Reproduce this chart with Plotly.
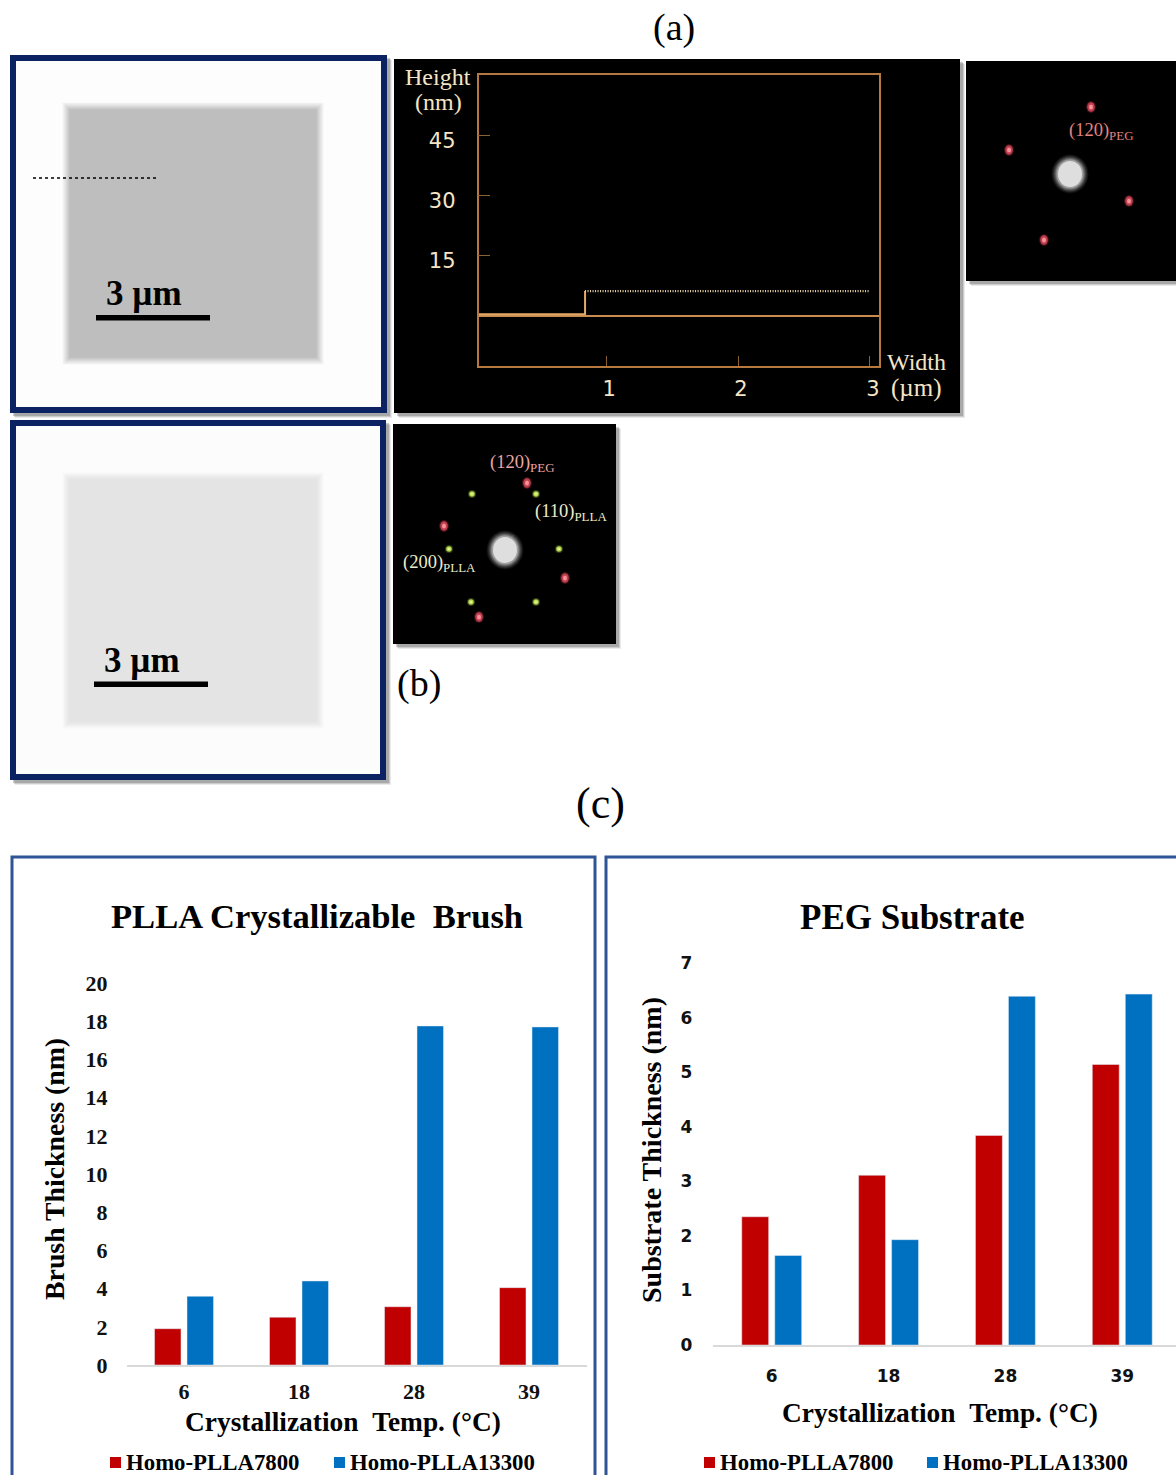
import plotly.graph_objects as go

W, H = 1176, 1475
SERIF = "Liberation Serif"
SANS = "DejaVu Sans"

# ---------- data ----------
temps = ["6", "18", "28", "39"]
series_names = ["Homo-PLLA7800", "Homo-PLLA13300"]
brush_7800 = [1.9, 2.5, 3.05, 4.05]
brush_13300 = [3.6, 4.4, 17.75, 17.7]
substrate_7800 = [2.35, 3.11, 3.84, 5.14]
substrate_13300 = [1.64, 1.93, 6.39, 6.43]
brush_ticks = [0, 2, 4, 6, 8, 10, 12, 14, 16, 18, 20]
substrate_ticks = [0, 1, 2, 3, 4, 5, 6, 7]

profile_base_x = [0.03, 0.84, 0.84]
profile_base_y = [0.4, 0.4, 6.2]
profile_top_x = [0.84, 3.0]
profile_top_y = [6.2, 6.2]
afm_y_ticks = [15, 30, 45]
afm_x_ticks = [1, 2, 3]

RED = "#C00000"
BLUE = "#0070C0"
FRAME = "#2F5597"
NAVY = "#0B2263"
AFM = "#B5793F"
CREAM = "#F5E5C8"


def fx(px):
    return px / W


def fy(py):
    return 1 - py / H


shapes = []
annotations = []


def rect(x0, y0, x1, y1, fill=None, line=None, lw=0, opacity=1.0, layer="below"):
    shapes.append(dict(type="rect", xref="paper", yref="paper", x0=fx(x0), x1=fx(x1), y0=fy(y1), y1=fy(y0),
                       fillcolor=fill if fill else "rgba(0,0,0,0)",
                       line=dict(color=line if line else "rgba(0,0,0,0)", width=lw),
                       opacity=opacity, layer=layer))


def soft_rect(x0, y0, x1, y1, fill, blur=6, steps=6):
    for i in range(steps):
        d = blur / 2 - blur * i / (steps - 1)
        rect(x0 - d, y0 - d, x1 + d, y1 + d, fill=fill, opacity=1.0 / (steps - i))


def shadow(x0, y0, x1, y1):
    for d, op in [(5, 0.12), (4, 0.2), (3, 0.3)]:
        rect(x0 + d, y0 + d, x1 + d, y1 + d, fill="#555555", opacity=op)


def ellipse(cx, cy, rx, ry, fill, opacity=1.0):
    shapes.append(dict(type="circle", xref="paper", yref="paper", x0=fx(cx - rx), x1=fx(cx + rx),
                       y0=fy(cy + ry), y1=fy(cy - ry), fillcolor=fill, line=dict(width=0),
                       opacity=opacity, layer="below"))


def spot(cx, cy, kind):
    if kind == "red":
        ellipse(cx, cy, 5, 6, "#C8364A", 0.3)
        ellipse(cx, cy, 3.8, 4.8, "#E04A5C", 0.8)
        ellipse(cx, cy, 2, 2.6, "#F58F98")
    elif kind == "green":
        ellipse(cx, cy, 4, 4, "#7FA030", 0.35)
        ellipse(cx, cy, 2.8, 2.8, "#B4D84A")
        ellipse(cx, cy, 1.3, 1.3, "#E4F2A0")
    else:
        for r, op in [(18.5, 0.06), (17.5, 0.08), (16.5, 0.1), (15.5, 0.14), (14.5, 0.2), (13.5, 0.3)]:
            ellipse(cx, cy, r, r + 1, "#FFFFFF", op)
        ellipse(cx, cy, 12, 13, "#DEDEDE")


def text(x, y, s, size, color="#000000", family=SERIF, weight=400, angle=0):
    annotations.append(dict(xref="paper", yref="paper", x=fx(x), y=fy(y), text=s, showarrow=False,
                            xanchor="center", yanchor="middle", textangle=angle,
                            font=dict(family=family, size=size, color=color, weight=weight)))


# ---------- panel (a) height image ----------
shadow(10, 55, 387, 413)
rect(13, 58, 384, 410, fill="#FDFDFD", line=NAVY, lw=6)
soft_rect(66, 106, 320, 361, "#BEBEBE", blur=7, steps=8)
shapes.append(dict(type="line", xref="paper", yref="paper", x0=fx(33), x1=fx(157), y0=fy(178), y1=fy(178),
                   line=dict(color="#000000", width=1.6, dash="dot"), layer="below"))
rect(96, 315, 210, 320.5, fill="#000000")
text(144, 294, "3 µm", 35, weight=700)

# ---------- AFM profile background ----------
shadow(394, 59, 960, 413)
rect(394, 59, 960, 413, fill="#000000")

# ---------- panel (a) diffraction ----------
shadow(966, 61, 1190, 281)
rect(966, 61, 1190, 281, fill="#000000")
spot(1070, 174, "core")
for cx, cy in [(1091, 107), (1009, 150), (1129, 201), (1044, 240)]:
    spot(cx, cy, "red")
text(1101, 131, "(120)<sub>PEG</sub>", 18.5, color="#E0857F")

# ---------- panel (b) image ----------
shadow(10, 420, 386, 780)
rect(13, 423, 383, 777, fill="#FCFCFC", line=NAVY, lw=6)
soft_rect(66, 476, 320, 725, "#E4E4E4", blur=7, steps=8)
rect(94, 681.5, 208, 687, fill="#000000")
text(142, 660, "3 µm", 35, weight=700)

# ---------- panel (b) diffraction ----------
shadow(393, 424, 616, 644)
rect(393, 424, 616, 644, fill="#000000")
spot(505, 550, "core")
for cx, cy in [(527, 483), (444, 526), (565, 578), (479, 617)]:
    spot(cx, cy, "red")
for cx, cy in [(472, 494), (536, 494), (449, 549), (559, 549), (471, 602), (536, 602)]:
    spot(cx, cy, "green")
text(522, 464, "(120)<sub>PEG</sub>", 18.5, color="#EBA5A0")
text(571, 512, "(110)<sub>PLLA</sub>", 18.5, color="#ECECC8")
text(439, 563, "(200)<sub>PLLA</sub>", 18.5, color="#ECECC8")

# ---------- panel letters ----------
text(674, 27, "(a)", 38)
text(419, 683, "(b)", 38)
text(600, 804, "(c)", 44)

# ---------- frames of chart panels ----------
rect(12, 857, 595, 1495, line=FRAME, lw=3)
rect(606, 857, 1195, 1495, line=FRAME, lw=3)

# ---------- AFM labels ----------
text(438, 77, "Height", 24, color=CREAM)
text(438, 102, "(nm)", 24, color=CREAM)
text(916, 362, "Width", 24, color=CREAM)
text(916, 388, "(µm)", 25, color=CREAM)

# ---------- chart texts ----------
text(317, 916, "PLLA Crystallizable\u00a0\u00a0Brush", 34.6, weight=700)
text(912, 918, "PEG Substrate", 35, weight=700)
text(343, 1422, "Crystallization\u00a0\u00a0Temp. (°C)", 27.4, weight=700)
text(940, 1413, "Crystallization\u00a0\u00a0Temp. (°C)", 27.4, weight=700)
text(54, 1169, "Brush Thickness (nm)", 27.8, weight=700, angle=-90)
text(651, 1150, "Substrate Thickness (nm)", 28, weight=700, angle=-90)

# manual legends (swatch hugging the text as in the figure)
for sx, tx, color, name in [(110, 212.5, RED, series_names[0]), (334, 442.5, BLUE, series_names[1]),
                            (704, 806.5, RED, series_names[0]), (927, 1035.5, BLUE, series_names[1])]:
    rect(sx, 1457, sx + 11, 1468, fill=color)
    text(tx, 1462, name, 22.8, weight=700)

fig = go.Figure()

# ---------- bars ----------
fig.add_trace(go.Bar(x=temps, y=brush_7800, name=series_names[0], marker_color=RED, xaxis="x", yaxis="y", offsetgroup="a"))
fig.add_trace(go.Bar(x=temps, y=brush_13300, name=series_names[1], marker_color=BLUE, xaxis="x", yaxis="y", offsetgroup="b"))
fig.add_trace(go.Bar(x=temps, y=substrate_7800, name=series_names[0], marker_color=RED, xaxis="x2", yaxis="y2", offsetgroup="c"))
fig.add_trace(go.Bar(x=temps, y=substrate_13300, name=series_names[1], marker_color=BLUE, xaxis="x2", yaxis="y2", offsetgroup="d"))

# ---------- AFM height profile ----------
fig.add_trace(go.Scatter(x=profile_base_x, y=profile_base_y, mode="lines", name="profile base",
                         line=dict(color="#E2A868", width=2), xaxis="x3", yaxis="y3"))
fig.add_trace(go.Scatter(x=profile_top_x, y=profile_top_y, mode="lines", name="profile plateau",
                         line=dict(color="#EFD7A8", width=2.2, dash="1px,1.5px"), xaxis="x3", yaxis="y3"))

left_font = dict(family=SERIF, size=22, color="#111111", weight=700)
right_font = dict(family=SANS, size=17, color="#111111", weight=700)
afm_font = dict(family=SANS, size=21, color=CREAM)

fig.update_layout(
    width=W, height=H, autosize=False, showlegend=False,
    margin=dict(l=0, r=0, t=0, b=0, pad=0),
    paper_bgcolor="#FFFFFF", plot_bgcolor="rgba(0,0,0,0)",
    barmode="group", bargap=0.435, bargroupgap=0.185,
    shapes=shapes, annotations=annotations,
    xaxis=dict(domain=[fx(126.5), fx(586.5)], anchor="y", type="category", categoryorder="array", categoryarray=temps,
               range=[-0.5, 3.5], showgrid=False, showline=True, linecolor="#D9D9D9", linewidth=2, automargin=False,
               ticks="", tickfont=left_font, ticklabelstandoff=6),
    yaxis=dict(domain=[fy(1365), fy(983)], anchor="x", range=[0, 20], tickvals=brush_ticks, showgrid=False, automargin=False,
               zeroline=False, showline=False, ticks="", tickfont=left_font, ticklabelstandoff=18),
    xaxis2=dict(domain=[fx(713.3), 1.0], anchor="y2", type="category", categoryorder="array", categoryarray=temps,
                range=[-0.5, 3.46], showgrid=False, showline=True, linecolor="#D9D9D9", linewidth=2, automargin=False,
                ticks="", tickfont=right_font, ticklabelstandoff=15),
    yaxis2=dict(domain=[fy(1345), fy(963)], anchor="x2", range=[0, 7], tickvals=substrate_ticks, showgrid=False, automargin=False,
                zeroline=False, showline=False, ticks="", tickfont=right_font, ticklabelstandoff=20),
    xaxis3=dict(domain=[fx(478.5), fx(878.5)], anchor="y3", range=[0.032, 3.065], tickvals=afm_x_ticks, automargin=False,
                showgrid=False, zeroline=False, showline=True, mirror=True, linecolor=AFM, linewidth=1.5,
                ticks="inside", ticklen=10, tickcolor="#8A6035", tickwidth=1, tickfont=afm_font,
                ticklabelstandoff=3, ticklabelshift=3),
    yaxis3=dict(domain=[fy(366), fy(75)], anchor="x3", range=[-12.5, 60.1], tickvals=afm_y_ticks, automargin=False,
                showgrid=False, zeroline=True, zerolinecolor="#C98C4E", zerolinewidth=2,
                showline=True, mirror=True, linecolor=AFM, linewidth=1.5,
                ticks="inside", ticklen=12, tickcolor="#8A6035", tickwidth=1, tickfont=afm_font,
                ticklabelstandoff=17, ticklabelshift=5),
)

fig.write_html("out.html", config={"displayModeBar": False},
               post_script="document.body.style.margin='0';document.body.style.overflow='hidden';")
